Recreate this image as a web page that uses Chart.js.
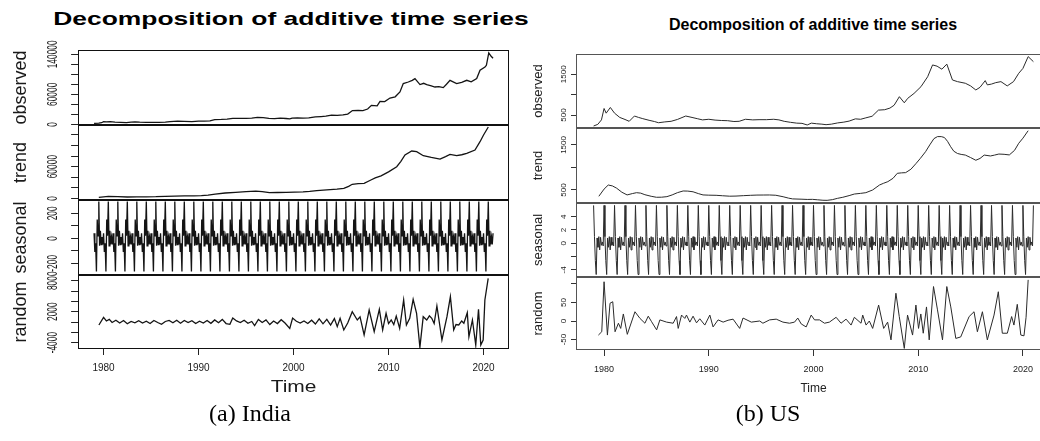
<!DOCTYPE html>
<html>
<head>
<meta charset="utf-8">
<script src="https://cdn.jsdelivr.net/npm/chart.js@4.4.1/dist/chart.umd.min.js"></script>
<style>
  html, body { margin: 0; padding: 0; background: #fff; overflow: hidden; }
  #page { position: relative; width: 1040px; height: 441px; overflow: hidden; background: #fff; }
  canvas { position: absolute; }
  .title { position: absolute; white-space: nowrap; font-family: "Liberation Sans", Arial, sans-serif; font-weight: bold; color: #000; }
  .cap { position: absolute; white-space: nowrap; font-family: "Liberation Serif", "Times New Roman", serif; font-size: 24px; color: #000; transform: translate(-50%, -50%); }
</style>
</head>
<body>
<div id="page">
  <div style="position:absolute;left:0;top:0;width:530px;height:441px;overflow:hidden;">
    <div class="title" style="left:291px;top:19px;font-size:19px;transform:translate(-50%,-50%) scaleX(1.39);">Decomposition of additive time series</div>
    <!-- 각 캔버스는 위아래로 14px 여유를 두어 눈금 라벨이 잘리지 않게 함 -->
    <canvas id="inObs" width="510" height="103" style="left:0;top:36px;"></canvas>
    <canvas id="inTrend" width="510" height="103" style="left:0;top:111px;"></canvas>
    <canvas id="inSeas" width="510" height="103" style="left:0;top:186px;"></canvas>
    <canvas id="inRand" width="510" height="148" style="left:0;top:261px;"></canvas>
  </div>
  <div class="title" style="left:813px;top:25px;font-size:16px;transform:translate(-50%,-50%);">Decomposition of additive time series</div>
  <canvas id="usObs" width="522" height="102" style="left:530px;top:40px;"></canvas>
  <canvas id="usTrend" width="522" height="103" style="left:530px;top:114px;"></canvas>
  <canvas id="usSeas" width="522" height="102" style="left:530px;top:189px;"></canvas>
  <canvas id="usRand" width="522" height="147" style="left:530px;top:263px;"></canvas>
  <div class="cap" style="left:250px;top:413px;">(a) India</div>
  <div class="cap" style="left:768px;top:413px;">(b) US</div>
</div>
<script>
// 시간축 (월별 1979.01 ~ 2021.01)
const xMin = 1977.32, xMax = 2022.68;
const yearTicks = [1980, 1990, 2000, 2010, 2020];
const seasStart = 1979, seasMonths = 505;

// ---- India ----
const inObsT = [1979.0,1979.5,1979.8,1980.0,1980.3,1980.7,1981.2,1981.8,1982.4,1982.9,1983.3,1983.8,1984.5,1985.2,1985.8,1986.5,1987.0,1987.8,1988.5,1989.3,1990.0,1990.6,1991.2,1991.7,1992.4,1993.0,1993.6,1994.2,1995.0,1995.6,1996.2,1996.8,1997.4,1998.0,1998.6,1999.2,1999.6,1999.85,2000.4,2001.0,2001.6,2002.3,2002.9,2003.4,2004.0,2004.6,2005.2,2005.7,2006.2,2006.8,2007.3,2007.8,2008.2,2008.8,2009.1,2009.6,2010.15,2010.7,2011.2,2011.55,2012.08,2012.5,2012.78,2013.31,2013.7,2014.02,2014.5,2014.89,2015.3,2015.76,2016.1,2016.47,2017.17,2017.7,2018.23,2018.7,2019.28,2019.63,2020.15,2020.3,2020.55,2020.8,2021.0];
const inObs = [1900,2300,3200,5300,4800,5200,4300,3900,3300,4400,4600,4200,4000,3800,4000,4300,5200,6300,5800,5200,6500,6300,6800,9500,9800,10500,12000,11800,12000,12500,14000,13200,11800,11500,12200,11600,10800,12500,12800,12300,12900,14800,15500,16200,18500,18000,18800,20500,27500,28000,27500,30500,38000,37000,46000,45500,52600,55000,64600,81400,84600,88000,91400,79400,82000,79400,77000,74600,75500,73400,80000,88000,81400,84000,88000,85000,91400,108000,114600,118000,143000,136000,132000];

const inTrendT = [1979.5,1980.5,1981.5,1982.5,1983.5,1984.5,1985.5,1986.5,1987.5,1988.5,1989.5,1990.3,1991.0,1991.75,1992.8,1993.9,1995.0,1996.03,1996.7,1997.46,1998.3,1999.23,2000.1,2001.0,2001.7,2002.44,2003.5,2004.57,2005.29,2005.8,2006.18,2006.8,2007.43,2008.14,2008.6,2009.21,2010.0,2010.86,2011.3,2011.73,2012.44,2012.96,2013.66,2014.5,2015.42,2016.0,2016.47,2017.17,2017.7,2018.23,2019.1,2019.63,2020.0,2020.5];
const inTrend = [1900,3500,3000,2500,2600,2800,3000,3600,4200,4500,4600,5000,6200,8100,10000,11400,12600,13600,12600,10700,11000,11400,11800,12100,13000,14600,16000,17200,18900,22500,26500,27800,28400,34700,38500,42500,50000,59800,70000,82000,89600,88300,80700,77500,74400,79000,83300,80700,82500,85200,91500,107200,120000,135000];

// 계절 성분 (1월~12월, 매년 반복)
const inSeasFig = [40,-110,-40,-265,150,20,295,-60,60,-50,10,-50];

const inRandT = [1979.51,1980.0,1980.3,1980.6,1980.9,1981.3,1981.7,1982.1,1982.5,1982.9,1983.3,1983.7,1984.1,1984.5,1984.9,1985.3,1985.7,1986.1,1986.5,1986.9,1987.3,1987.7,1988.1,1988.5,1988.9,1989.3,1989.7,1990.1,1990.5,1990.9,1991.3,1991.7,1992.1,1992.5,1992.9,1993.3,1993.6,1994.0,1994.4,1994.8,1995.2,1995.6,1995.9,1996.3,1996.7,1997.1,1997.5,1997.9,1998.3,1998.7,1999.1,1999.6,1999.9,2000.3,2000.7,2001.1,2001.5,2001.9,2002.3,2002.7,2003.1,2003.5,2003.9,2004.3,2004.6,2004.9,2005.29,2005.7,2006.18,2006.71,2007.0,2007.43,2007.96,2008.49,2009.03,2009.38,2009.74,2010.0,2010.28,2010.55,2010.81,2011.17,2011.59,2011.88,2012.23,2012.59,2012.95,2013.3,2013.65,2014.02,2014.3,2014.55,2014.8,2015.09,2015.62,2016.15,2016.51,2016.86,2017.1,2017.39,2017.7,2017.93,2018.29,2018.46,2018.83,2019.18,2019.47,2019.71,2019.96,2020.14,2020.49];
const inRand = [-580,910,200,500,-100,350,-200,300,-350,100,-150,250,-200,150,-300,300,-100,-450,100,300,-150,350,-250,300,-100,250,-300,150,-200,300,-250,400,-150,500,-300,-450,770,200,-100,350,-250,100,-700,500,-100,400,-500,200,-300,450,-200,-1230,770,150,-200,200,-300,350,-400,600,-350,500,-600,650,-900,700,-1550,-200,2000,390,1000,-2520,2330,-1880,2460,-1550,1690,-300,390,-500,1160,-1230,4270,-580,720,4400,1690,-4910,1030,390,1200,720,-300,3100,-3490,1030,4910,-1550,-500,-580,200,-250,1800,-2850,390,-4460,2460,-4460,-3490,4270,8480];

// ---- US ----
const usObsT = [1979.0,1979.4,1979.75,1980.0,1980.2,1980.6,1981.0,1981.5,1982.0,1982.4,1982.9,1983.3,1983.7,1984.3,1984.8,1985.2,1985.8,1986.4,1987.0,1987.8,1988.4,1988.9,1989.4,1990.0,1990.6,1991.2,1991.8,1992.4,1992.9,1993.5,1994.2,1994.8,1995.5,1996.2,1996.7,1997.2,1997.8,1998.4,1998.9,1999.4,1999.8,2000.3,2000.8,2001.2,2001.7,2002.3,2002.9,2003.4,2004.0,2004.5,2005.0,2005.6,2006.2,2006.8,2007.3,2007.7,2008.2,2008.67,2009.0,2009.6,2010.26,2010.9,2011.37,2011.8,2012.26,2012.73,2013.27,2013.75,2014.5,2015.0,2015.5,2015.9,2016.4,2016.6,2017.0,2017.4,2017.9,2018.5,2019.1,2019.6,2020.0,2020.5,2021.0];
const usObs = [230,270,380,660,545,685,545,440,390,345,475,440,410,370,340,310,330,345,390,475,440,410,380,395,375,365,360,340,345,395,380,385,385,395,380,345,320,300,295,255,300,285,275,262,275,305,325,350,405,395,430,470,620,630,670,740,950,800,910,1030,1195,1440,1730,1700,1625,1750,1360,1320,1280,1215,1115,1180,1345,1240,1260,1295,1320,1215,1320,1525,1645,1935,1810];

const usTrendT = [1979.5,1980.0,1980.4,1980.8,1981.2,1981.7,1982.2,1982.7,1983.1,1983.5,1983.9,1984.5,1985.0,1985.5,1986.0,1986.5,1987.0,1987.55,1988.0,1988.5,1989.0,1989.45,1990.0,1990.7,1991.3,1992.0,1992.6,1993.3,1994.0,1994.6,1995.2,1995.8,1996.4,1997.1,1997.6,1998.0,1998.9,1999.4,1999.9,2000.4,2000.9,2001.3,2001.8,2002.3,2002.8,2003.4,2003.9,2004.5,2005.0,2005.65,2006.3,2006.7,2007.1,2007.6,2008.0,2008.4,2008.8,2009.3,2009.8,2010.2,2010.7,2011.1,2011.5,2011.84,2012.2,2012.5,2012.8,2013.1,2013.4,2013.75,2014.1,2014.5,2015.0,2015.5,2015.9,2016.3,2016.9,2017.3,2017.7,2018.2,2018.7,2019.2,2019.6,2020.0,2020.5];
const usTrend = [360,520,610,590,540,450,390,420,440,430,395,360,338,340,352,390,440,478,475,460,420,390,385,382,372,362,365,374,382,387,388,389,383,350,320,302,295,290,292,282,272,270,285,315,338,375,410,425,440,500,610,650,685,760,870,880,885,960,1090,1200,1350,1500,1640,1685,1685,1665,1580,1460,1360,1310,1290,1275,1220,1160,1200,1275,1255,1275,1298,1292,1278,1380,1537,1650,1816];

const usSeasFig = [5.7,1.0,-2.6,-4.7,0.8,-0.6,1.0,-1.0,0.9,-0.3,0.2,-0.4];

const usRandT = [1979.46,1979.78,1980.0,1980.32,1980.57,1980.83,1981.05,1981.37,1981.59,1981.84,1982.22,1982.95,1983.43,1983.9,1984.22,1984.54,1985.02,1985.33,1985.97,1986.6,1986.92,1987.08,1987.4,1987.71,1987.87,1988.19,1988.5,1988.83,1989.14,1989.62,1990.1,1990.41,1990.89,1991.37,1991.84,1992.32,1992.95,1993.27,1994.06,1994.86,1995.17,1995.81,1996.44,1997.08,1997.71,1998.19,1998.5,1998.83,1999.3,1999.78,2000.1,2000.57,2001.05,2001.52,2002.16,2002.63,2003.11,2003.59,2003.9,2004.54,2004.7,2005.02,2005.33,2005.65,2006.22,2006.7,2007.08,2007.4,2007.87,2008.19,2008.67,2008.98,2009.46,2009.78,2010.03,2010.25,2010.48,2010.79,2011.05,2011.46,2011.84,2012.32,2012.73,2013.11,2013.59,2014.06,2014.86,2015.33,2015.65,2016.13,2016.6,2017.24,2017.65,2018.03,2018.51,2018.92,2019.14,2019.46,2019.8,2020.1,2020.3,2020.5];
const usRand = [-38,-29,106,-38,48,52,-29,-6,-20,19,-36,25,7,-6,13,-2,-24,3,-3,-6,12,-20,16,7,16,-3,13,-5,6,-11,16,-16,3,-3,2,5,-20,8,-3,0,-6,3,5,-3,-6,-3,8,-8,-16,16,3,3,-6,-3,10,-6,5,-11,10,-6,16,-11,0,-20,43,-20,-3,-51,75,12,-74,16,-38,43,-20,19,-33,38,-51,93,30,-51,93,38,-47,-43,12,25,-29,25,-51,16,79,-33,-33,12,-11,45,-38,-40,10,111];

// ---- helpers ----
const FONT = '"Liberation Sans", Arial, sans-serif';
const MARGIN = 14; // 캔버스 위아래 여유
Chart.defaults.font.family = FONT;

function pts(t, v) {
  return t.map((x, i) => ({ x: x, y: v[i] }));
}

// 계절 성분: 12개월 패턴을 관측 기간 전체에 반복
function seasonal(fig) {
  const out = [];
  for (let i = 0; i < seasMonths; i++) {
    out.push({ x: seasStart + i / 12, y: fig[i % 12] });
  }
  return out;
}

// R 스타일 박스, 회전된 y 눈금 라벨, x축 제목
const rDeco = {
  id: 'rdeco',
  afterDraw(chart, args, o) {
    const ctx = chart.ctx;
    const a = chart.chartArea;
    const ys = chart.scales.y;
    ctx.save();
    ctx.strokeStyle = o.boxColor;
    ctx.lineWidth = 1;
    const l = Math.round(a.left) + 0.5, t = Math.round(a.top) + 0.5;
    const r = Math.round(a.right) - 0.5, b = Math.round(a.bottom) - 0.5;
    ctx.strokeRect(l, t, r - l, b - t);

    ctx.fillStyle = o.textColor;
    ctx.font = o.labelFont;
    ctx.textAlign = 'center';
    ctx.textBaseline = 'middle';
    o.labels.forEach(v => {
      ctx.save();
      ctx.translate(o.labelX, ys.getPixelForValue(v));
      ctx.rotate(-Math.PI / 2);
      ctx.scale(o.squeeze, 1);
      ctx.fillText(String(v), 0, 0);
      ctx.restore();
    });

    if (o.xTitle) {
      ctx.font = o.xTitleFont;
      ctx.translate((a.left + a.right) / 2, a.bottom + o.xTitleDy);
      ctx.scale(o.xTitleStretch, 1);
      ctx.fillText(o.xTitle, 0, 0);
    }
    ctx.restore();
  }
};

function makePanel(id, p) {
  return new Chart(document.getElementById(id), {
    type: 'line',
    data: {
      datasets: [{
        data: p.data,
        borderColor: p.color,
        borderWidth: p.lw,
        pointRadius: 0,
        tension: 0
      }]
    },
    options: {
      responsive: false,
      animation: false,
      devicePixelRatio: 1,
      layout: { padding: { left: 0, right: 1, top: MARGIN, bottom: p.showX ? 0 : MARGIN } },
      plugins: {
        legend: { display: false },
        tooltip: { enabled: false },
        rdeco: {
          boxColor: p.boxColor,
          textColor: p.textColor,
          labelFont: p.labelFont,
          labelX: p.labelX,
          squeeze: p.squeeze,
          labels: p.yLabels,
          xTitle: p.showX ? 'Time' : null,
          xTitleFont: p.xTitleFont,
          xTitleDy: p.xTitleDy,
          xTitleStretch: p.xTitleStretch
        }
      },
      scales: {
        x: {
          type: 'linear',
          min: xMin,
          max: xMax,
          display: p.showX,
          afterBuildTicks: s => { s.ticks = yearTicks.map(v => ({ value: v })); },
          afterFit: s => { s.height = p.showX ? 60 : 0; },
          ticks: {
            callback: v => String(v),
            font: { size: p.xFont },
            color: p.textColor,
            padding: p.xPad,
            maxRotation: 0,
            autoSkip: false
          },
          grid: { drawOnChartArea: false, drawTicks: true, tickLength: 6, color: p.tickColor },
          border: { display: false }
        },
        y: {
          type: 'linear',
          min: p.yMin,
          max: p.yMax,
          afterBuildTicks: s => { s.ticks = p.yTicks.map(v => ({ value: v })); },
          afterFit: s => { s.width = p.yW; },
          ticks: { display: false },
          grid: { drawOnChartArea: false, drawTicks: true, tickLength: p.tl, color: p.tickColor },
          border: { display: false },
          title: {
            display: true,
            text: p.title,
            font: { size: p.titleSize },
            color: p.textColor,
            padding: { top: p.titlePad, bottom: 0 }
          }
        }
      }
    },
    plugins: [rDeco]
  });
}

// ---- India 패널 ----
const inStyle = {
  color: '#141414', lw: 1.3, boxColor: '#111', textColor: '#1a1a1a', tickColor: '#222',
  yW: 78.1, tl: 7, titleSize: 18, titlePad: 10.7,
  labelFont: '14px ' + FONT, labelX: 53, squeeze: 0.6,
  xFont: 10, xPad: 7, xTitleFont: '16px ' + FONT, xTitleDy: 39, xTitleStretch: 1.31
};
makePanel('inObs', Object.assign({}, inStyle, {
  data: pts(inObsT, inObs), title: 'observed', showX: false,
  yMin: -1400, yMax: 148600, yTicks: [0, 20000, 40000, 60000, 80000, 100000, 120000, 140000], yLabels: [0, 60000, 140000]
}));
makePanel('inTrend', Object.assign({}, inStyle, {
  data: pts(inTrendT, inTrend), title: 'trend', showX: false,
  yMin: -3220, yMax: 138840, yTicks: [0, 20000, 40000, 60000, 80000, 100000, 120000], yLabels: [0, 60000]
}));
makePanel('inSeas', Object.assign({}, inStyle, {
  data: seasonal(inSeasFig), title: 'seasonal', showX: false,
  yMin: -293.6, yMax: 306.4, yTicks: [-200, -100, 0, 100, 200], yLabels: [-200, 0, 200]
}));
makePanel('inRand', Object.assign({}, inStyle, {
  data: pts(inRandT, inRand), title: 'random', showX: true,
  yMin: -5238, yMax: 9118, yTicks: [-4000, -2000, 0, 2000, 4000, 6000, 8000], yLabels: [-4000, 2000, 8000]
}));

// ---- US 패널 ----
const usStyle = {
  color: '#2a2a2a', lw: 1, boxColor: '#555', textColor: '#222', tickColor: '#333',
  yW: 46, tl: 5, titleSize: 13, titlePad: 0.5,
  labelFont: '8px ' + FONT, labelX: 34, squeeze: 1,
  xFont: 9, xPad: 8, xTitleFont: '12px ' + FONT, xTitleDy: 38.5, xTitleStretch: 1
};
makePanel('usObs', Object.assign({}, usStyle, {
  data: pts(usObsT, usObs), title: 'observed', showX: false,
  yMin: 180.6, yMax: 1998.8, yTicks: [500, 1000, 1500], yLabels: [500, 1500]
}));
makePanel('usTrend', Object.assign({}, usStyle, {
  data: pts(usTrendT, usTrend), title: 'trend', showX: false,
  yMin: 211, yMax: 1876, yTicks: [500, 1000, 1500], yLabels: [500, 1500]
}));
makePanel('usSeas', Object.assign({}, usStyle, {
  data: seasonal(usSeasFig), title: 'seasonal', showX: false,
  yMin: -5.07, yMax: 6.06, yTicks: [-4, -2, 0, 2, 4], yLabels: [-4, 0, 2, 4]
}));
makePanel('usRand', Object.assign({}, usStyle, {
  data: pts(usRandT, usRand), title: 'random', showX: true,
  yMin: -78.3, yMax: 118.8, yTicks: [-50, 0, 50, 100], yLabels: [-50, 0, 50]
}));
</script>
</body>
</html>
